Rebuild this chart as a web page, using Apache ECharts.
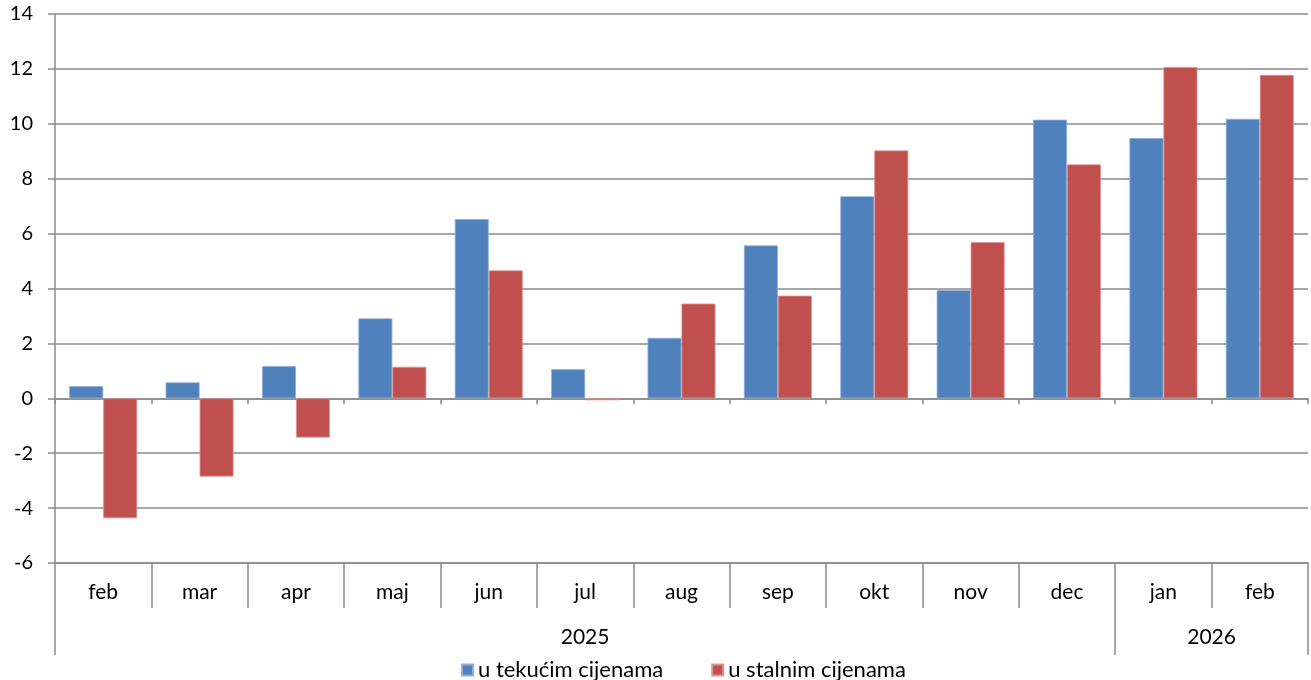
<!DOCTYPE html>
<html>
<head>
<meta charset="utf-8">
<script src="https://cdn.jsdelivr.net/npm/echarts@6/dist/echarts.min.js"></script>
<style>
html,body{margin:0;padding:0;background:#fff;}
#chart{width:1311px;height:680px;}
</style>
</head>
<body>
<div id="chart"></div>
<script>
const months = ['feb','mar','apr','maj','jun','jul','aug','sep','okt','nov','dec','jan','feb'];
const yearLabels = ['2025','2026'];
const yearSpans = [11, 2];
const seriesNames = ['u tekućim cijenama','u stalnim cijenama'];
const currentPrices = [0.44,0.58,1.17,2.91,6.53,1.06,2.20,5.57,7.36,3.94,10.15,9.48,10.18];
const constantPrices = [-4.37,-2.85,-1.43,1.15,4.66,-0.07,3.45,3.74,9.03,5.69,8.52,12.07,11.78];
const yMin = -6, yMax = 14, yStep = 2;

// year axis: half-category points so group centres and boundaries fall on points
const nHalf = months.length * 2;
const yearPoints = [];
for (let i = 0; i <= nHalf; i++) yearPoints.push(String(i));
const yearTickIdx = [0];
const yearLabelMap = {};
let start = 0;
yearSpans.forEach((s, i) => {
  yearLabelMap[start + s] = yearLabels[i];
  start += 2 * s;
  yearTickIdx.push(start);
});

const FONT = 'Lato';
const FS = 20;
const GRID = '#8a8a8a';
const chart = echarts.init(document.getElementById('chart'));
chart.setOption({
  animation: false,
  textStyle: {fontFamily: FONT},
  grid: {left: 55, right: 1, top: 14, bottom: 117, containLabel: false},
  legend: {
    left: 456, top: 654,
    itemWidth: 11, itemHeight: 11, itemGap: 48, itemTextGap: 9,
    icon: 'rect',
    textStyle: {fontFamily: FONT, fontSize: 22, color: '#000'},
    data: seriesNames
  },
  xAxis: [
    {
      type: 'category', data: months, position: 'bottom',
      axisLine: {onZero: true, lineStyle: {color: GRID, width: 1.5}},
      axisTick: {show: true, length: 6, lineStyle: {color: GRID, width: 1.5}},
      axisLabel: {show: false},
      splitLine: {show: false}
    },
    {
      type: 'category', data: months, position: 'bottom',
      axisLine: {onZero: false, show: true, lineStyle: {color: GRID, width: 1.5}},
      axisTick: {show: true, length: 45, interval: 0, lineStyle: {color: GRID, width: 1.5}},
      axisLabel: {show: true, margin: 19, fontSize: 21, color: '#000', fontFamily: FONT, interval: 0},
      splitLine: {show: false}
    },
    {
      type: 'category', data: yearPoints, position: 'bottom', offset: 45,
      boundaryGap: false,
      axisLine: {onZero: false, show: false},
      axisTick: {show: true, length: 47, interval: (idx) => yearTickIdx.indexOf(idx) >= 0,
                 lineStyle: {color: GRID, width: 1.5}},
      axisLabel: {show: true, margin: 19, fontSize: 21, color: '#000', fontFamily: FONT,
                  interval: 0, formatter: (v, idx) => yearLabelMap[idx] || ''},
      splitLine: {show: false}
    }
  ],
  yAxis: {
    type: 'value', min: yMin, max: yMax, interval: yStep,
    axisLine: {show: true, lineStyle: {color: GRID, width: 1.5}},
    axisTick: {show: true, length: 7, lineStyle: {color: GRID, width: 1.5}},
    axisLabel: {margin: 22, fontSize: FS, color: '#000', fontFamily: FONT},
    splitLine: {show: true, lineStyle: {color: GRID, width: 1.5}}
  },
  series: [
    {
      name: seriesNames[0], type: 'bar', xAxisIndex: 0, data: currentPrices,
      barGap: '0%', barCategoryGap: '29.5%',
      itemStyle: {color: '#4F81BD', borderColor: '#8fb0da', borderWidth: 0.8}
    },
    {
      name: seriesNames[1], type: 'bar', xAxisIndex: 0, data: constantPrices,
      barGap: '0%', barCategoryGap: '29.5%',
      itemStyle: {color: '#C0504D', borderColor: '#dc9492', borderWidth: 0.8}
    }
  ]
});
</script>
</body>
</html>
